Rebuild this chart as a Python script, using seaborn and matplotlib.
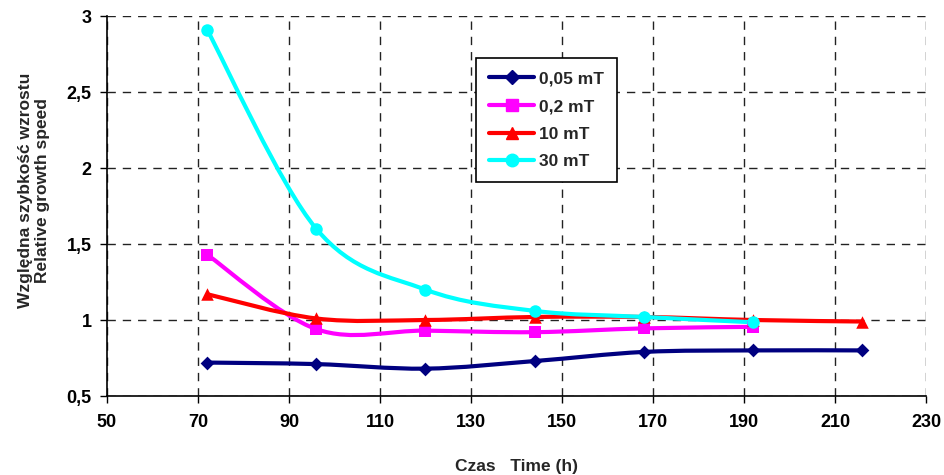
import matplotlib
matplotlib.use("Agg")
import matplotlib.pyplot as plt
import seaborn as sns
import pandas as pd
from matplotlib.path import Path
from matplotlib.patches import PathPatch
from matplotlib.lines import Line2D

# data
hours = [72, 96, 120, 144, 168, 192, 216]
labels = ["0,05 mT", "0,2 mT", "10 mT", "30 mT"]
v_005 = [0.72, 0.71, 0.68, 0.73, 0.79, 0.80, 0.80]
v_02 = [1.43, 0.94, 0.93, 0.92, 0.945, 0.955]
v_10 = [1.17, 1.01, 1.00, 1.02, 1.02, 1.00, 0.99]
v_30 = [2.91, 1.60, 1.20, 1.06, 1.02, 0.985]
series = [v_005, v_02, v_10, v_30]

colors = ["#000080", "#FF00FF", "#FF0000", "#00FFFF"]
markers = ["D", "s", "^", "o"]
msizes = [7, 8, 9, 9]

sns.set_style("white")
plt.rcParams["font.family"] = ["Liberation Sans", "DejaVu Sans"]
plt.rcParams["font.weight"] = "bold"


def smooth_path(xs, ys):
    # Excel-like smoothed line: cubic bezier through the points
    pts = list(zip(xs, ys))
    verts = [pts[0]]
    codes = [Path.MOVETO]
    n = len(pts)
    for i in range(n - 1):
        p0 = pts[i - 1] if i > 0 else pts[i]
        p1 = pts[i]
        p2 = pts[i + 1]
        p3 = pts[i + 2] if i + 2 < n else pts[i + 1]
        c1 = (p1[0] + (p2[0] - p0[0]) / 6, p1[1] + (p2[1] - p0[1]) / 6)
        c2 = (p2[0] - (p3[0] - p1[0]) / 6, p2[1] - (p3[1] - p1[1]) / 6)
        verts += [c1, c2, p2]
        codes += [Path.CURVE4] * 3
    return Path(verts, codes)


fig = plt.figure(figsize=(9.45, 4.75), dpi=100)
ax = fig.add_axes([0.1132, 0.1663, 0.8667, 0.80])

handles = []
for vals, lab, c, m, ms in zip(series, labels, colors, markers, msizes):
    xs = hours[:len(vals)]
    ax.add_patch(PathPatch(smooth_path(xs, vals), fill=False, edgecolor=c, lw=3, zorder=3))
    df = pd.DataFrame({"x": xs, "y": vals})
    sns.scatterplot(data=df, x="x", y="y", ax=ax, marker=m, s=ms ** 2, color=c,
                    edgecolor=c, linewidth=0, zorder=4, legend=False)
    handles.append(Line2D([], [], color=c, lw=3, marker=m, markersize=ms,
                          markeredgecolor=c, label=lab))

ax.set_xlim(50, 230)
ax.set_ylim(0.5, 3)
ax.set_xticks(range(50, 231, 20))
ax.set_yticks([0.5, 1, 1.5, 2, 2.5, 3])
ax.set_yticklabels(["0,5", "1", "1,5", "2", "2,5", "3"])
ax.tick_params(labelsize=13, length=5, width=1, direction="out", colors="black")
ax.tick_params(axis="x", pad=8)
ax.tick_params(axis="y", pad=6)
ax.tick_params(axis="both", which="both", bottom=True, left=True)
for lab in ax.get_xticklabels() + ax.get_yticklabels():
    lab.set_fontweight("bold")

ax.grid(True, color="#222222", linestyle=(0, (6, 5)), lw=1)
for s in ["top", "right"]:
    ax.spines[s].set_visible(False)
for s in ["left", "bottom"]:
    ax.spines[s].set_color("black")
    ax.spines[s].set_linewidth(1.2)

ax.set_xlabel("Czas   Time (h)", fontsize=12.5, fontweight="bold")
ax.xaxis.set_label_coords(0.5, -0.165)
ax.set_ylabel("Względna szybkość wzrostu\nRelative growth speed", fontsize=12.5,
              fontweight="bold", linespacing=1.1)
ax.yaxis.set_label_coords(-0.07, 0.54)

leg = ax.legend(handles=handles, loc="upper left", bbox_to_anchor=(0.4505, 0.889),
                frameon=True, fancybox=False, edgecolor="black", fontsize=12.5,
                handlelength=2.6, handletextpad=0.3, labelspacing=0.72,
                borderpad=0.75, borderaxespad=0, framealpha=1)
leg.get_frame().set_linewidth(1.2)
for t in leg.get_texts():
    t.set_fontweight("bold")

fig.savefig("out.png", dpi=100)
